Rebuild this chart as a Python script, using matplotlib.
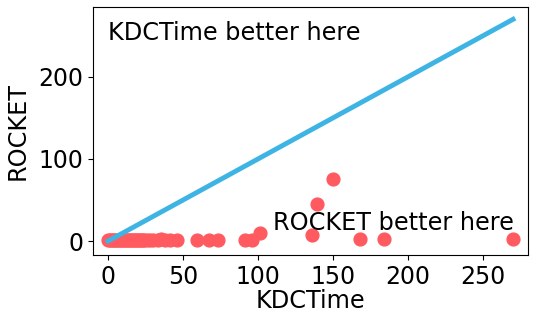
import numpy as np
import matplotlib
matplotlib.use('Agg')
import matplotlib.pyplot as plt

kdctime = [0, 1, 2, 3, 4, 5, 6, 7, 8, 9, 10, 11, 12, 13, 14, 15, 16, 17, 18, 19,
           20, 21, 22, 23, 24, 26, 28, 30, 33, 35, 38, 41, 46, 59, 67, 73,
           91, 96, 101, 136, 139, 150, 168, 184, 270]
rocket = [1, 1, 1, 1, 1, 1, 1, 1, 1, 1, 1, 1, 1, 1, 1, 1, 1, 1, 1, 1,
          1, 1, 1, 1, 1, 1, 1, 1, 1, 2, 1, 1, 1, 1, 1, 1,
          1, 1, 10, 8, 45, 76, 2, 2, 2]
diag = [0, 270]

plt.rcParams['font.size'] = 17.3
fig, ax = plt.subplots(figsize=(5.41, 3.18), dpi=100)
ax.scatter(kdctime, rocket, s=85, color='#FF5A5F', zorder=2)
ax.plot(diag, diag, color='#3EB4E4', linewidth=3.5, zorder=3)
ax.text(0, 253, 'KDCTime better here', va='center')
ax.text(110, 22, 'ROCKET better here', va='center')
ax.set_xlim(-10, 280)
ax.set_ylim(-17, 285)
ax.set_xticks([0, 50, 100, 150, 200, 250])
ax.set_yticks([0, 100, 200])
ax.tick_params(labelsize=17)
ax.set_xlabel('KDCTime', labelpad=0)
ax.set_ylabel('ROCKET', labelpad=6)
fig.subplots_adjust(left=0.172, right=0.976, top=0.978, bottom=0.198)
fig.savefig('out.png')
